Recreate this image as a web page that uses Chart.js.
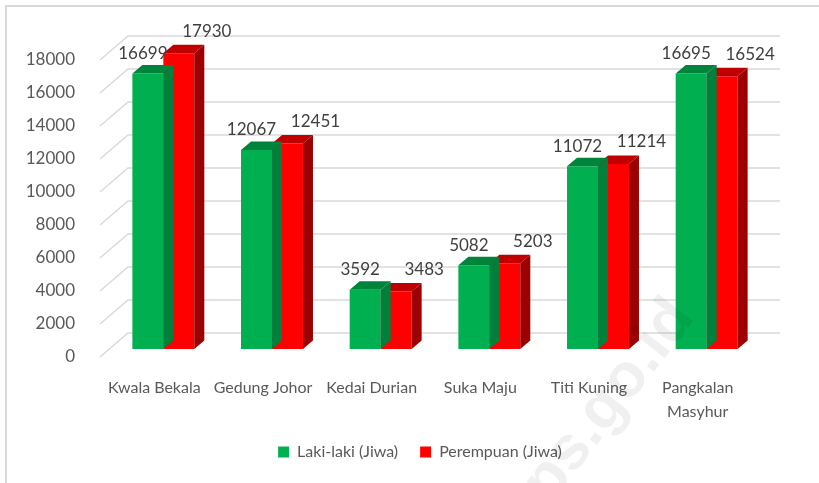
<!DOCTYPE html>
<html>
<head>
<meta charset="utf-8">
<script src="https://cdn.jsdelivr.net/npm/chart.js@4.4.1/dist/chart.umd.min.js"></script>
<style>
    body { margin: 0; background: #fff; }
    #wrap { position: relative; width: 819px; height: 483px; overflow: hidden; }
    #frame { position: absolute; left: 5px; top: 5px; width: 900px; height: 600px;
             border-left: 2px solid #d9d9d9; border-top: 2px solid #d9d9d9; }
    #chart { position: absolute; left: 0; top: 0; }
</style>
</head>
<body>
<div id="wrap">
    <div id="frame"></div>
    <canvas id="chart" width="819" height="483"></canvas>
</div>
<script>
const categories = ['Kwala Bekala', 'Gedung Johor', 'Kedai Durian', 'Suka Maju', 'Titi Kuning', ['Pangkalan', 'Masyhur']];
const lakiLaki = [16699, 12067, 3592, 5082, 11072, 16695];
const perempuan = [17930, 12451, 3483, 5203, 11214, 16524];
const yMax = 18000;
const yStep = 2000;

const FONT = 'Lato, "Open Sans", sans-serif';

// oblique 3D look: wall depth, where the bars sit inside it, and bar depth
const wall = { dx: 28, dy: -24 };
const barShift = { dx: 9, dy: -8 };
const barDepth = { dx: 10, dy: -8.5 };

const threeD = {
    id: 'threeD',
    beforeDatasetsDraw(chart) {
        const { ctx, chartArea, scales } = chart;
        ctx.save();
        ctx.strokeStyle = '#d9d9d9';
        ctx.lineWidth = 1.4;
        scales.y.ticks.forEach(t => {
            const y = scales.y.getPixelForValue(t.value);
            ctx.beginPath();
            ctx.moveTo(chartArea.left, y);
            ctx.lineTo(chartArea.left + wall.dx, y + wall.dy);
            ctx.lineTo(chartArea.right + wall.dx, y + wall.dy);
            ctx.stroke();
        });
        ctx.restore();
        ctx.save();
        ctx.translate(barShift.dx, barShift.dy);
    },
    afterDatasetDraw(chart, args) {
        const ctx = chart.ctx;
        const ds = chart.data.datasets[args.index];
        args.meta.data.forEach(bar => {
            const { x, y, base, width } = bar.getProps(['x', 'y', 'base', 'width'], true);
            const l = x - width / 2, r = x + width / 2;
            ctx.fillStyle = ds.topColor;
            ctx.beginPath();
            ctx.moveTo(l, y);
            ctx.lineTo(r, y);
            ctx.lineTo(r + barDepth.dx, y + barDepth.dy);
            ctx.lineTo(l + barDepth.dx, y + barDepth.dy);
            ctx.closePath();
            ctx.fill();
            ctx.fillStyle = ds.sideColor;
            ctx.beginPath();
            ctx.moveTo(r, y);
            ctx.lineTo(r + barDepth.dx, y + barDepth.dy);
            ctx.lineTo(r + barDepth.dx, base + barDepth.dy);
            ctx.lineTo(r, base);
            ctx.closePath();
            ctx.fill();
        });
    },
    afterDatasetsDraw(chart) {
        const ctx = chart.ctx;
        ctx.restore();
        ctx.save();
        ctx.font = '17px ' + FONT;
        ctx.fillStyle = '#404040';
        ctx.textAlign = 'center';
        ctx.textBaseline = 'middle';
        chart.data.datasets.forEach((ds, i) => {
            chart.getDatasetMeta(i).data.forEach((bar, j) => {
                const lx = bar.x + barShift.dx + ds.labelShift.dx;
                const ly = bar.y + barShift.dy + ds.labelShift.dy;
                ctx.fillText(String(ds.data[j]), lx, ly);
            });
        });
        ctx.restore();
    },
    afterDraw(chart) {
        // faint site watermark
        const ctx = chart.ctx;
        ctx.save();
        ctx.translate(696, 318);
        ctx.rotate(-52 * Math.PI / 180);
        ctx.font = 'bold 62px "Liberation Sans", Arial, sans-serif';
        ctx.fillStyle = 'rgba(0,0,0,0.06)';
        ctx.textAlign = 'right';
        ctx.textBaseline = 'alphabetic';
        ctx.fillText('bps.go.id', 0, 0);
        ctx.restore();
    }
};

new Chart(document.getElementById('chart'), {
    type: 'bar',
    data: {
        labels: categories,
        datasets: [
            {
                label: 'Laki-laki (Jiwa)',
                data: lakiLaki,
                backgroundColor: '#00b050',
                topColor: '#00843b',
                sideColor: '#00803a',
                labelShift: { dx: -5, dy: -20 },
                borderWidth: 0,
                clip: false
            },
            {
                label: 'Perempuan (Jiwa)',
                data: perempuan,
                backgroundColor: '#ff0000',
                topColor: '#c00000',
                sideColor: '#9c0000',
                labelShift: { dx: 28, dy: -22 },
                borderWidth: 0,
                clip: false
            }
        ]
    },
    options: {
        responsive: false,
        animation: false,
        categoryPercentage: 0.57,
        barPercentage: 1,
        layout: { padding: { top: 60, right: 0, left: 21, bottom: 13 } },
        scales: {
            x: {
                grid: { display: false },
                border: { display: false },
                ticks: {
                    padding: 10,
                    maxRotation: 0,
                    autoSkip: false,
                    color: '#595959',
                    font: { family: FONT, size: 16, lineHeight: 1.55 }
                },
                afterFit(scale) { scale.height = 65; }
            },
            y: {
                min: 0,
                max: yMax,
                grid: { display: false },
                border: { display: false },
                ticks: {
                    stepSize: yStep,
                    padding: 17,
                    color: '#595959',
                    font: { family: FONT, size: 17 },
                    callback: v => String(v)
                },
                afterFit(scale) { scale.width = 79; }
            },
            yRight: {
                position: 'right',
                grid: { display: false },
                border: { display: false },
                ticks: { display: false },
                afterFit(scale) { scale.width = 67; }
            }
        },
        plugins: {
            legend: {
                position: 'bottom',
                labels: {
                    boxWidth: 11,
                    boxHeight: 11,
                    padding: 22,
                    color: '#595959',
                    font: { family: FONT, size: 16 }
                }
            },
            tooltip: { enabled: false }
        }
    },
    plugins: [threeD]
});
</script>
</body>
</html>
